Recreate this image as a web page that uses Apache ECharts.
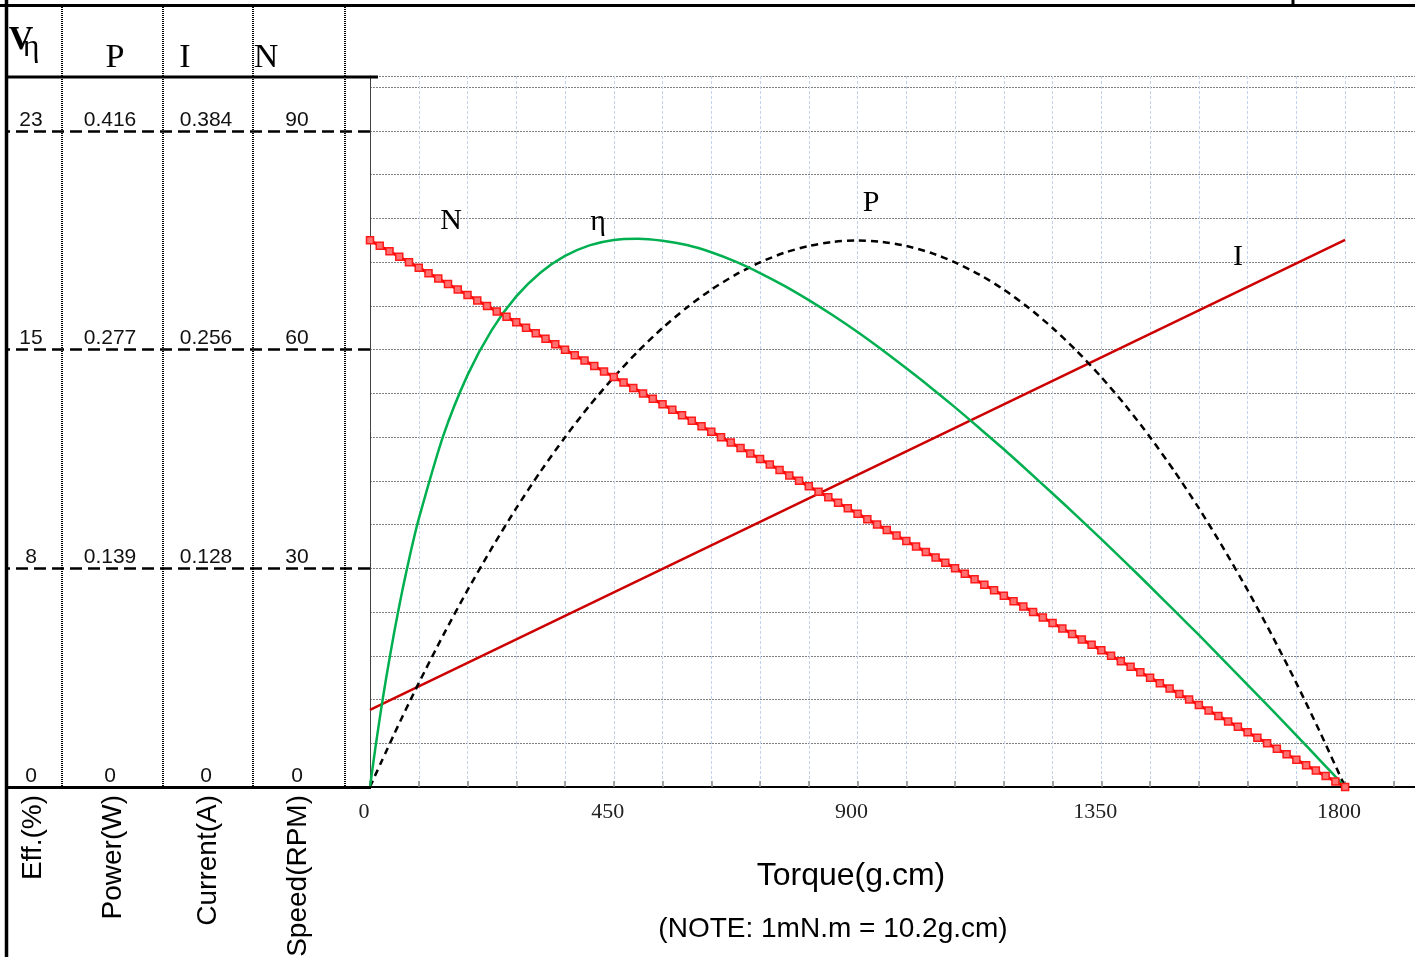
<!DOCTYPE html>
<html>
<head>
<meta charset="utf-8">
<script src="https://cdn.jsdelivr.net/npm/echarts@6/dist/echarts.min.js"></script>
<style>
html,body{margin:0;padding:0;background:#fff;}
#c{width:1415px;height:957px;}
</style>
</head>
<body>
<div id="c"></div>
<script>
// ---- data ----
// Speed (RPM) line with square markers
const torqueN = [0,18,36,54,72,90,108,126,144,162,180,198,216,234,252,270,288,306,324,342,360,378,396,414,432,450,468,486,504,522,540,558,576,594,612,630,648,666,684,702,720,738,756,774,792,810,828,846,864,882,900,918,936,954,972,990,1008,1026,1044,1062,1080,1098,1116,1134,1152,1170,1188,1206,1224,1242,1260,1278,1296,1314,1332,1350,1368,1386,1404,1422,1440,1458,1476,1494,1512,1530,1548,1566,1584,1602,1620,1638,1656,1674,1692,1710,1728,1746,1764,1782,1800];
const speedN = [75,74.25,73.5,72.75,72,71.25,70.5,69.75,69,68.25,67.5,66.75,66,65.25,64.5,63.75,63,62.25,61.5,60.75,60,59.25,58.5,57.75,57,56.25,55.5,54.75,54,53.25,52.5,51.75,51,50.25,49.5,48.75,48,47.25,46.5,45.75,45,44.25,43.5,42.75,42,41.25,40.5,39.75,39,38.25,37.5,36.75,36,35.25,34.5,33.75,33,32.25,31.5,30.75,30,29.25,28.5,27.75,27,26.25,25.5,24.75,24,23.25,22.5,21.75,21,20.25,19.5,18.75,18,17.25,16.5,15.75,15,14.25,13.5,12.75,12,11.25,10.5,9.75,9,8.25,7.5,6.75,6,5.25,4.5,3.75,3,2.25,1.5,0.75,0];
// Current (A)
const torqueI = [0, 1800];
const currentI = [0.0451, 0.3202];
// Efficiency (%) and Power (W)
const torqueCurve = [0,5,10,20,30,45,60,75,90,135,180,225,270,315,360,405,450,495,540,585,630,675,720,765,810,855,900,945,990,1035,1080,1125,1170,1215,1260,1305,1350,1395,1440,1485,1530,1575,1620,1665,1710,1755,1800];
const effValues   = [0,0.70,1.38,2.66,3.84,5.46,6.92,8.23,9.40,12.30,14.44,16.03,17.20,18.04,18.62,18.99,19.18,19.22,19.15,19.00,18.75,18.42,18.02,17.57,17.07,16.53,15.95,15.33,14.68,14.01,13.31,12.58,11.84,11.07,10.29,9.50,8.69,7.87,7.03,6.18,5.33,4.46,3.58,2.70,1.81,0.91,0];
const powerValues = [0,0.0038,0.0077,0.0152,0.0227,0.0338,0.0447,0.0554,0.0659,0.0962,0.1248,0.1516,0.1768,0.2002,0.2218,0.2418,0.2599,0.2764,0.2911,0.3041,0.3154,0.3249,0.3327,0.3388,0.3431,0.3457,0.3466,0.3457,0.3431,0.3388,0.3327,0.3249,0.3154,0.3041,0.2911,0.2764,0.2599,0.2418,0.2218,0.2002,0.1768,0.1516,0.1248,0.0962,0.0659,0.0338,0];
// Tick labels of the left table (value at the 3rd dashed line)
const effTop = 23, powerTop = 0.416, currentTop = 0.384, speedTop = 90;
const axisNames = ['Eff.(%)', 'Power(W)', 'Current(A)', 'Speed(RPM)'];
const headLetters = ['P', 'I', 'N'];
const xTitle = 'Torque(g.cm)';
const xNote = '(NOTE: 1mN.m = 10.2g.cm)';

// ---- scale setup ----
const NMAX = 97.545;            // speed-axis value at top of plot
const XMAX = 1929;              // torque value at right edge of picture
const k = NMAX / speedTop;
const pairs = (xs, ys) => xs.map((x, i) => [x, ys[i]]);

const chart = echarts.init(document.getElementById('c'), null, {renderer: 'canvas'});

const serif = 'Liberation Serif, Times New Roman, serif';
const sans = 'Liberation Sans, Arial, sans-serif';

function labelAxis(max, top, marginPx, fmt, extra) {
  return Object.assign({
    type: 'value', position: 'left', min: 0, max: max, interval: top / 3,
    axisLine: {show: false}, axisTick: {show: false}, splitLine: {show: false},
    axisLabel: {
      show: true, margin: marginPx, align: 'center', verticalAlign: 'bottom', lineHeight: 22,
      fontFamily: sans, fontSize: 21, color: '#111', showMaxLabel: false,
      formatter: v => (v > top * 1.001 ? '' : fmt(v))
    }
  }, extra || {});
}

const gLine = (x1, y1, x2, y2, w, dash) => ({
  type: 'line', z: 100, shape: {x1, y1, x2, y2},
  style: {stroke: '#000', lineWidth: w, lineDash: dash || null}
});
const gText = (x, y, text, font, size, opts) => Object.assign({
  type: 'text', z: 101, x, y,
  style: Object.assign({text, fontFamily: font, fontSize: size, fill: '#000', align: 'center', verticalAlign: 'middle'}, (opts && opts.style) || {})
}, (opts && opts.el) || {});

const colX = [33, 113, 208, 298];

const option = {
  animation: false,
  backgroundColor: '#fff',
  grid: {left: 370, top: 76, bottom: 170, right: 0, containLabel: false, outerBoundsMode: 'none'},
  xAxis: [{
    type: 'value', min: 0, max: XMAX, interval: 90, position: 'bottom', z: 2.6,
    axisLine: {show: true, lineStyle: {color: '#000', width: 2}},
    axisTick: {show: true, inside: true, length: 6, lineStyle: {color: '#888', width: 1.5}},
    axisLabel: {
      margin: 14, fontFamily: serif, fontSize: 22, color: '#222', padding: [0, 12, 0, 0],
      showMaxLabel: false,
      formatter: v => (v % 450 === 0 && v <= 1800 ? String(v) : '')
    },
    splitLine: {show: true, lineStyle: {color: '#c3d3ee', width: 1, type: [3, 2]}}
  }, {
    type: 'value', min: 0, max: XMAX, position: 'top',
    axisLine: {show: true, lineStyle: {color: '#a8a8a8', width: 2}},
    axisTick: {show: false}, axisLabel: {show: false}, splitLine: {show: false}
  }],
  yAxis: [
    { // grid axis, speed units
      type: 'value', min: 0, max: NMAX, interval: 6, position: 'left', z: 2.5,
      axisLine: {show: false},
      axisTick: {show: false}, axisLabel: {show: false},
      splitLine: {show: true, lineStyle: {color: '#808080', width: 1, type: [2, 1]}}
    },
    labelAxis(effTop * k, effTop, 339, v => String(Math.round(v)), {
      z: 2.7, axisLine: {show: true, lineStyle: {color: '#444', width: 1}}
    }),
    labelAxis(powerTop * k, powerTop, 260, v => (v === 0 ? '0' : v.toFixed(3))),
    labelAxis(currentTop * k, currentTop, 164, v => (v === 0 ? '0' : v.toFixed(3))),
    labelAxis(NMAX, speedTop, 73, v => String(Math.round(v)), {
      axisTick: {show: true, inside: false, length: 364, lineStyle: {color: '#000', width: 2.5, type: [12, 6]}}
    })
  ],
  series: [
    {
      name: 'I', type: 'line', xAxisIndex: 0, yAxisIndex: 3, data: pairs(torqueI, currentI),
      symbol: 'none', lineStyle: {color: '#cc0000', width: 2.5}, z: 3
    },
    {
      name: 'P', type: 'line', xAxisIndex: 0, yAxisIndex: 2, data: pairs(torqueCurve, powerValues),
      symbol: 'none', smooth: 0.25,
      lineStyle: {color: '#000', width: 2.5, type: [7, 5]}, z: 4
    },
    {
      name: 'η', type: 'line', xAxisIndex: 0, yAxisIndex: 1, data: pairs(torqueCurve, effValues),
      symbol: 'none', smooth: 0.25,
      lineStyle: {color: '#00b050', width: 2.5}, z: 5
    },
    {
      name: 'N', type: 'line', xAxisIndex: 0, yAxisIndex: 4, data: pairs(torqueN, speedN),
      symbol: 'rect', symbolSize: 7, showAllSymbol: true,
      lineStyle: {color: '#ff0000', width: 3},
      itemStyle: {color: '#ff7070', borderColor: '#ff1a1a', borderWidth: 1.5}, z: 6
    }
  ],
  graphic: [
    gLine(0, 5.5, 1415, 5.5, 3),
    gLine(1293, 0, 1293, 5, 3),
    gLine(6.5, 0, 6.5, 957, 3.5),
    gLine(6, 77, 378, 77, 3),
    gLine(6, 787.5, 371, 787.5, 3),
    gLine(62, 5, 62, 787, 2, [1, 1]),
    gLine(163, 5, 163, 787, 2, [1, 1]),
    gLine(253, 5, 253, 787, 2, [1, 1]),
    gLine(345, 5, 345, 787, 2, [1, 1]),
    // header
    gText(21, 40, 'V', serif, 34, {style: {fontWeight: 'bold'}}),
    gText(31, 48, 'η', serif, 32),
    gText(115, 58, headLetters[0], serif, 34),
    gText(185, 58, headLetters[1], serif, 34),
    gText(266, 58, headLetters[2], serif, 34),
    // rotated axis names
    ...axisNames.map((t, i) => gText(colX[i], 795, t, sans, 28,
      {style: {align: 'right', verticalAlign: 'middle'}, el: {rotation: Math.PI / 2}})),
    // x axis title
    gText(851, 876, xTitle, sans, 32),
    gText(833, 929, xNote, sans, 28),
    // curve labels
    gText(451, 221, 'N', serif, 30),
    gText(598, 222, 'η', serif, 30),
    gText(871, 203, 'P', serif, 30),
    gText(1238, 257, 'I', serif, 30)
  ]
};
chart.setOption(option);
</script>
</body>
</html>
